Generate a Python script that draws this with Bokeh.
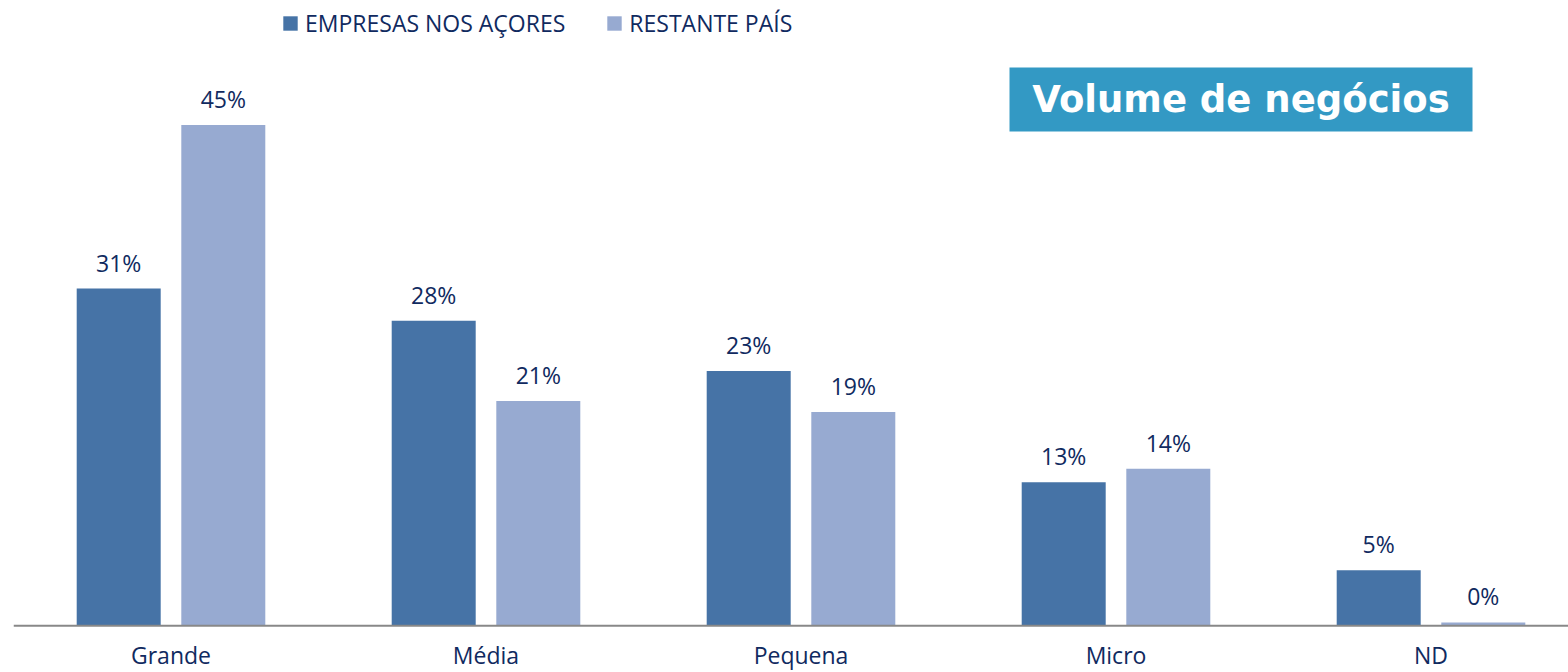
from bokeh.plotting import figure
from bokeh.models import ColumnDataSource, Range1d, Span, Legend, LegendItem, BoxAnnotation, Label
from bokeh.core.properties import value
from bokeh.transform import dodge
from bokeh.embed import file_html
from bokeh.resources import INLINE

categories = ["Grande", "Média", "Pequena", "Micro", "ND"]
acores = [30.3, 27.4, 22.9, 12.9, 5.0]
restante = [45.0, 20.2, 19.2, 14.1, 0.3]
acores_labels = ["31%", "28%", "23%", "13%", "5%"]
restante_labels = ["45%", "21%", "19%", "14%", "0%"]
series_names = ["EMPRESAS NOS AÇORES", "RESTANTE PAÍS"]
title_text = "Volume de negócios"

DARK = "#4673A6"
LIGHT = "#97AAD1"
TEXT = "#102A60"
FONT = "Open Sans"

W, H = 1568, 672
LEFT = 13
PX_PER_UNIT_X = 315.0
PX_PER_PCT = 11.13
BASE_Y = 625.3  # baseline, px from figure top

# helpers converting figure pixels to data coords (decoration placement only)
def px_x(px):
    return (px - LEFT) / PX_PER_UNIT_X

def px_y(py):
    return (BASE_Y - py) / PX_PER_PCT

xc = [i + 0.5 for i in range(len(categories))]
src = ColumnDataSource(dict(x=xc, cat=categories, a=acores, r=restante,
                            al=acores_labels, rl=restante_labels,
                            zero=[0] * len(categories)))

p = figure(width=W, height=H, output_backend="svg", toolbar_location=None,
           x_range=Range1d(px_x(LEFT), px_x(W)), y_range=Range1d(px_y(H), px_y(0)),
           min_border_left=LEFT, min_border_right=0, min_border_top=0, min_border_bottom=0)
p.xaxis.visible = False
p.yaxis.visible = False
p.grid.visible = False
p.outline_line_color = None
p.background_fill_color = "white"
p.border_fill_color = "white"

bw = 84 / PX_PER_UNIT_X
off = 52.3 / PX_PER_UNIT_X
ra = p.vbar(x=dodge("x", -off), top="a", width=bw, source=src, fill_color=DARK, line_color=None)
rr = p.vbar(x=dodge("x", off), top="r", width=bw, source=src, fill_color=LIGHT, line_color=None)

p.add_layout(Span(location=0, dimension="width", line_color="#888888", line_width=2))

common = dict(text_font=value(FONT), text_font_size="23px", text_color=TEXT,
              text_align="center", text_baseline="middle")
p.text(x=dodge("x", -off), y="a", text="al", y_offset=-26, source=src, **common)
p.text(x=dodge("x", off), y="r", text="rl", y_offset=-26, source=src, **common)
p.text(x="x", y="zero", text="cat", y_offset=29, source=src, **common)

# title box
p.add_layout(BoxAnnotation(left=px_x(1009), right=px_x(1472), top=px_y(67), bottom=px_y(131),
                           fill_color="#3399C4", fill_alpha=1.0, line_color=None))
p.add_layout(Label(x=px_x(1240.5), y=px_y(99), text=title_text, text_align="center",
                   text_baseline="middle", text_color="white", text_font="DejaVu Sans",
                   text_font_style="bold", text_font_size="37px"))

legend = Legend(items=[LegendItem(label=series_names[0], renderers=[ra]),
                       LegendItem(label=series_names[1], renderers=[rr])],
                orientation="horizontal", location=(268, 633),
                glyph_width=18, glyph_height=18, label_standoff=6, spacing=40,
                padding=0, margin=0, border_line_color=None, background_fill_alpha=0,
                label_text_font=FONT, label_text_font_size="23px", label_text_color=TEXT)
p.add_layout(legend)

open("out.html", "w").write(file_html(p, INLINE))
